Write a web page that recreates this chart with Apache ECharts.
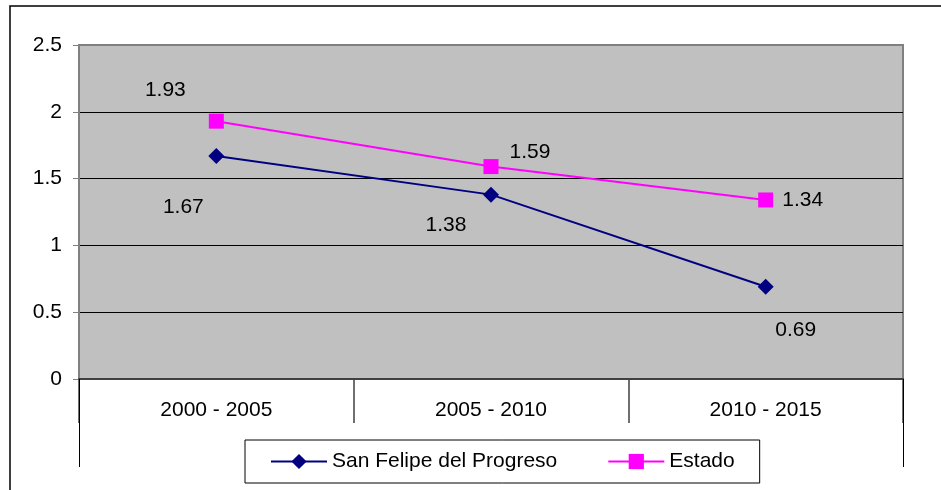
<!DOCTYPE html>
<html>
<head>
<meta charset="utf-8">
<script src="https://cdn.jsdelivr.net/npm/echarts@6/dist/echarts.min.js"></script>
<style>
  html, body { margin: 0; padding: 0; background: #fff; }
  #chart { width: 941px; height: 490px; }
</style>
</head>
<body>
<div id="chart"></div>
<script>
var periods = ['2000 - 2005', '2005 - 2010', '2010 - 2015'];
var sanFelipe = [1.67, 1.38, 0.69];
var estado = [1.93, 1.59, 1.34];

// where each value label sits relative to its point
var sanFelipeLabelOffset = [[-33, 51], [-45, 31], [30, 43]];
var estadoLabelOffset = [[-51, -31], [39, -14], [37, 0]];

function withLabels(values, offsets) {
    return values.map(function (v, i) {
        return { value: v, label: { offset: offsets[i] } };
    });
}

var font = 'Liberation Sans, Arial, sans-serif';
var fs = 21;

var option = {
    backgroundColor: '#fff',
    animation: false,
    textStyle: { fontFamily: font },
    grid: {
        left: 79, right: 38, top: 45, bottom: 111,
        show: true,
        backgroundColor: '#c0c0c0',
        borderColor: '#808080',
        borderWidth: 2
    },
    graphic: [{
        type: 'rect',
        shape: { x: 10, y: 6, width: 1000, height: 600 },
        style: { fill: 'none', stroke: '#000', lineWidth: 1.5 },
        silent: true
    }],
    legend: {
        left: 245, top: 440,
        padding: [11, 25, 11, 25],
        itemGap: 50,
        itemWidth: 56, itemHeight: 19,
        borderColor: '#000', borderWidth: 1,
        backgroundColor: '#fff',
        textStyle: { fontSize: fs, color: '#000', fontFamily: font },
        data: ['San Felipe del Progreso', 'Estado']
    },
    xAxis: [{
        type: 'category',
        data: periods,
        boundaryGap: true,
        axisLine: { lineStyle: { color: '#404040', width: 2 } },
        axisTick: { show: true, inside: false, length: 44, lineStyle: { color: '#404040', width: 1.5 } },
        axisLabel: { fontSize: fs, color: '#000', margin: 21, fontFamily: font },
        splitLine: { show: false }
    }, {
        // long end lines at both sides of the category band
        type: 'value',
        position: 'bottom',
        min: 0, max: 1, interval: 1,
        axisLine: { show: false },
        axisTick: { show: true, length: 88, lineStyle: { color: '#000', width: 1 } },
        axisLabel: { show: false },
        splitLine: { show: false }
    }],
    yAxis: {
        type: 'value',
        min: 0, max: 2.5, interval: 0.5,
        axisLine: { show: true, lineStyle: { color: '#808080', width: 2 } },
        axisTick: { show: true, length: 6, lineStyle: { color: '#808080' } },
        axisLabel: { fontSize: fs, color: '#000', margin: 17, fontFamily: font },
        splitLine: { show: true, lineStyle: { color: ['#000', '#000', '#000', '#000', '#000', '#808080'], width: 1 } }
    },
    series: [{
        name: 'San Felipe del Progreso',
        type: 'line',
        xAxisIndex: 0,
        data: withLabels(sanFelipe, sanFelipeLabelOffset),
        symbol: 'diamond',
        symbolSize: 16,
        lineStyle: { color: '#000080', width: 2 },
        itemStyle: { color: '#000080' },
        label: { show: true, position: 'inside', fontSize: fs, color: '#000', fontFamily: font },
        z: 3
    }, {
        name: 'Estado',
        type: 'line',
        xAxisIndex: 0,
        data: withLabels(estado, estadoLabelOffset),
        symbol: 'rect',
        symbolSize: 15,
        lineStyle: { color: '#ff00ff', width: 2 },
        itemStyle: { color: '#ff00ff' },
        label: { show: true, position: 'inside', fontSize: fs, color: '#000', fontFamily: font },
        z: 3
    }]
};

var myChart = echarts.init(document.getElementById('chart'));
myChart.setOption(option);
</script>
</body>
</html>
